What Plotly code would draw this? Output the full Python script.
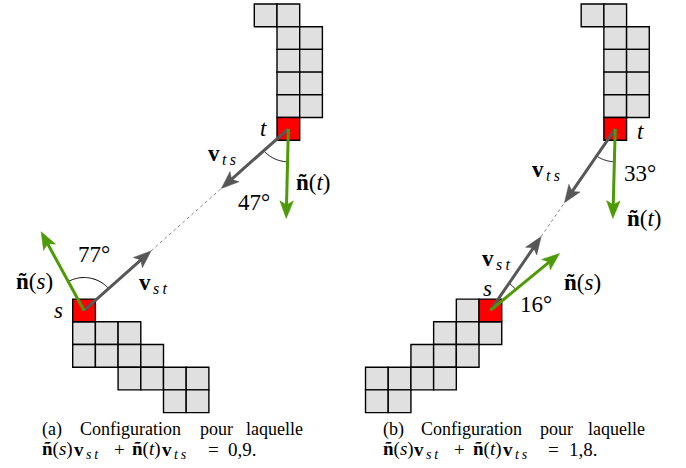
import math
import plotly.graph_objects as go

# ---------------- data ----------------
panel_names = ["a", "b"]
panel_offsets = [0.0, 12.9]          # column offset of each panel (cells)
top_cells_a = [(8, 0), (9, 0), (9, 1), (10, 1), (9, 2), (10, 2), (9, 3), (10, 3), (9, 4), (10, 4)]
bottom_cells_a = [(0, 14), (1, 14), (2, 14), (0, 15), (1, 15), (2, 15), (3, 15),
                  (2, 16), (3, 16), (4, 16), (5, 16), (4, 17), (5, 17)]
s_cells = [(0, 13), (5, 13)]
t_cells = [(9, 5), (10.5, 5)]
top_cells_b = [(9.5, 0), (10.5, 0), (10.5, 1), (11.5, 1), (10.5, 2), (11.5, 2),
               (10.5, 3), (11.5, 3), (10.5, 4), (11.5, 4)]
bottom_cells_b = [(4, 13), (3, 14), (4, 14), (5, 14), (2, 15), (3, 15), (4, 15),
                  (0, 16), (1, 16), (2, 16), (3, 16), (0, 17), (1, 17)]
angle_s = [77, 16]        # angle between n(s) and v_st (degrees)
angle_t = [47, 33]        # angle between n(t) and v_ts (degrees)
angle_s_sign = [1, -1]
angle_t_sign = [1, 1]
dot_values = ["0,9", "1,8"]
vector_length = 3.95

# ---------------- style ----------------
GRAY_FILL = "#e0e0e0"
RED = "#ff0000"
ARROW_GRAY = "#575757"
GREEN = "#4e9a06"
FONT = "Liberation Serif"
PX = 22.7       # pixels per cell
X0, Y0 = 72.7, 4.0


def X(px):
    return (px - X0) / PX


def Y(py):
    return (py - Y0) / PX


shapes = []
annotations = []


def cell(c, r, off, fill):
    shapes.append(dict(type="rect", xref="x", yref="y", x0=c + off, x1=c + off + 1,
                       y0=r, y1=r + 1, fillcolor=fill,
                       line=dict(color="black", width=1.4)))


def direction(theta):
    t = math.radians(theta)
    return math.cos(t), -math.sin(t)


def arrow(x0, y0, theta, length, color):
    dx, dy = direction(theta)
    tx, ty = x0 + dx * length, y0 + dy * length
    hl, hw = 0.78, 0.3
    bx, by = tx - dx * hl, ty - dy * hl
    shapes.append(dict(type="line", xref="x", yref="y", x0=x0, y0=y0,
                       x1=bx + dx * 0.2, y1=by + dy * 0.2,
                       line=dict(color=color, width=3)))
    px_, py_ = -dy, dx
    ix, iy = bx + dx * 0.18, by + dy * 0.18
    path = (f"M {tx},{ty} L {bx + px_ * hw},{by + py_ * hw} "
            f"Q {ix},{iy} {ix},{iy} L {bx - px_ * hw},{by - py_ * hw} Z")
    shapes.append(dict(type="path", xref="x", yref="y", path=path,
                       fillcolor=color, line=dict(color=color, width=0.5)))
    return tx, ty


def arc(cx, cy, th1, th2, r):
    n = 40
    pts = []
    for i in range(n + 1):
        th = th1 + (th2 - th1) * i / n
        dx, dy = direction(th)
        pts.append((cx + dx * r, cy + dy * r))
    path = "M " + " L ".join(f"{x},{y}" for x, y in pts)
    shapes.append(dict(type="path", xref="x", yref="y", path=path,
                       line=dict(color="black", width=1)))


def label(px, py, text, size=23, xanchor="center"):
    annotations.append(dict(x=X(px), y=Y(py), xref="x", yref="y", text=text,
                            showarrow=False, xanchor=xanchor, yanchor="middle",
                            font=dict(family=FONT, size=size, color="black")))


def vlabel(vx, vy, sub, size=23, subsize=16):
    # bold v with an italic subscript placed lower right
    label(vx, vy, "<b>v</b>", size)
    label(vx + 0.27 * size, vy + 0.27 * size,
          f"<i>{sub[0]}\u2009{sub[1]}</i>", subsize, xanchor="left")


def n_of(v):
    return f"<b>ñ</b>(<i>{v}</i>)"


top_cells = [top_cells_a, top_cells_b]
bottom_cells = [bottom_cells_a, bottom_cells_b]

for i in range(2):
    off = panel_offsets[i]
    for c, r in top_cells[i] + bottom_cells[i]:
        cell(c, r, off, GRAY_FILL)
    cell(s_cells[i][0], s_cells[i][1], off, RED)
    cell(t_cells[i][0], t_cells[i][1], off, RED)

    sx, sy = s_cells[i][0] + off + 0.5, s_cells[i][1] + 0.5
    tx, ty = t_cells[i][0] + off + 0.5, t_cells[i][1] + 0.5
    th_st = math.degrees(math.atan2(-(ty - sy), tx - sx))
    th_ts = th_st + 180
    th_ns = th_st + angle_s_sign[i] * angle_s[i]
    th_nt = th_ts + angle_t_sign[i] * angle_t[i]

    arc(sx, sy, th_st, th_ns, 1.45)
    arc(tx, ty, th_ts, th_nt, 1.45)

    e1 = arrow(sx, sy, th_st, vector_length, ARROW_GRAY)
    e2 = arrow(tx, ty, th_ts, vector_length, ARROW_GRAY)
    shapes.append(dict(type="line", xref="x", yref="y", x0=e1[0], y0=e1[1],
                       x1=e2[0], y1=e2[1],
                       line=dict(color="#888888", width=1, dash="dot")))
    arrow(sx, sy, th_ns, vector_length, GREEN)
    arrow(tx, ty, th_nt, vector_length, GREEN)

# panel (a) labels
label(263, 128, "<i>t</i>")
vlabel(214, 153, "ts")
label(313, 182, n_of("t"))
label(254, 202, f"{angle_t[0]}°")
label(94, 254, f"{angle_s[0]}°")
label(34, 281, n_of("s"))
vlabel(144.5, 282, "st")
label(58, 310, "<i>s</i>")
# panel (b) labels
label(640, 131, "<i>t</i>")
vlabel(538, 169, "ts")
label(640, 173, f"{angle_t[1]}°")
label(644, 218, n_of("t"))
vlabel(488, 258, "st")
label(582, 282, n_of("s"))
label(487, 288, "<i>s</i>")
label(536, 304, f"{angle_s[1]}°")

# captions
cap_words = [
    [("(a)", 40, "left"), ("Configuration", 77.5, "left"), ("pour", 197.5, "left"), ("laquelle", 305, "right")],
    [("(b)", 380.5, "left"), ("Configuration", 419, "left"), ("pour", 538, "left"), ("laquelle", 647, "right")],
]
cap_line2_x = [40, 380.5]
for i in range(2):
    for w, xp, anc in cap_words[i]:
        label(xp, 429, w, size=18, xanchor=anc)
    x0 = cap_line2_x[i]
    ly = 449
    label(x0, ly, n_of("s"), size=19, xanchor="left")
    vlabel(x0 + 38.5, ly, "st", size=19, subsize=14)
    label(x0 + 79, ly, "+", size=19)
    label(x0 + 90, ly, n_of("t"), size=19, xanchor="left")
    vlabel(x0 + 127, ly, "ts", size=19, subsize=14)
    label(x0 + 173, ly, "=", size=19)
    label(x0 + 186, ly, f"{dot_values[i]}.", size=19, xanchor="left")

fig = go.Figure()
fig.add_trace(go.Scatter(x=[X(0), X(686)], y=[Y(0), Y(468)], mode="markers",
                         marker=dict(opacity=0), hoverinfo="skip", showlegend=False))
fig.update_layout(
    width=686, height=468,
    margin=dict(l=0, r=0, t=0, b=0),
    paper_bgcolor="white", plot_bgcolor="white",
    font=dict(family=FONT),
    shapes=shapes, annotations=annotations,
    xaxis=dict(range=[X(0), X(686)], visible=False, showgrid=False, zeroline=False, fixedrange=True),
    yaxis=dict(range=[Y(468), Y(0)], visible=False, showgrid=False, zeroline=False, fixedrange=True),
    showlegend=False,
)
fig.write_html("out.html", config={"displayModeBar": False},
               post_script="document.body.style.margin='0';")
